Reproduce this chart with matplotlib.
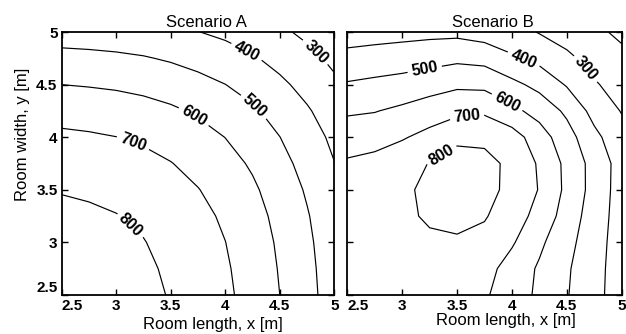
import numpy as np
import matplotlib
matplotlib.use("Agg")
import matplotlib.pyplot as plt

# grid positions (room length x, room width y) in metres
x_vals = [2.5, 2.75, 3.0, 3.25, 3.5, 3.75, 4.0, 4.25, 4.5, 4.75, 5.0]
y_vals = [2.5, 2.75, 3.0, 3.25, 3.5, 3.75, 4.0, 4.25, 4.5, 4.75, 5.0]

# values, one row per y (bottom to top)
scenario_a = [
    [860, 852, 840, 822, 795, 760, 718, 665, 600, 530, 455],
    [852, 844, 832, 814, 788, 753, 711, 659, 594, 525, 451],
    [840, 832, 820, 803, 776, 742, 701, 650, 586, 518, 444],
    [822, 814, 803, 786, 760, 726, 686, 636, 573, 507, 435],
    [795, 788, 776, 760, 735, 703, 664, 615, 555, 490, 421],
    [760, 753, 742, 726, 703, 672, 634, 588, 530, 468, 402],
    [718, 711, 701, 686, 664, 635, 599, 555, 501, 443, 380],
    [665, 659, 650, 636, 615, 588, 555, 514, 464, 410, 352],
    [600, 594, 586, 573, 555, 530, 501, 464, 419, 370, 317],
    [530, 525, 518, 507, 490, 468, 443, 410, 370, 327, 280],
    [455, 451, 444, 435, 421, 402, 380, 352, 317, 280, 241],
]

scenario_b = [
    [742, 748, 755, 755, 745, 712, 649, 582, 506, 430, 350],
    [740, 750, 760, 768, 765, 735, 660, 588, 512, 433, 352],
    [738, 752, 770, 785, 790, 770, 711, 619, 531, 441, 353],
    [735, 755, 782, 812, 822, 808, 747, 668, 557, 450, 357],
    [730, 755, 785, 818, 840, 830, 775, 695, 578, 463, 357],
    [712, 730, 765, 803, 830, 820, 785, 687, 576, 463, 360],
    [654, 663, 691, 731, 785, 785, 745, 646, 541, 425, 335],
    [587, 596, 620, 648, 675, 683, 625, 564, 481, 367, 295],
    [509, 522, 536, 561, 583, 577, 526, 471, 392, 311, 256],
    [431, 443, 452, 463, 479, 468, 414, 372, 322, 262, 219],
    [353, 360, 368, 375, 376, 355, 335, 295, 255, 216, 185],
]

label_levels = [300, 400, 500, 600, 700, 800]
extra_levels_b = [200]   # unlabelled line in the top right corner of B

# where the level labels sit
label_pos_a = [(4.80, 4.78), (4.19, 4.80), (4.29, 4.32), (3.73, 4.23), (3.16, 3.96), (3.12, 3.15)]
label_pos_b = [(4.66, 4.64), (4.09, 4.70), (3.21, 4.62), (3.95, 4.32), (3.59, 4.19), (3.37, 3.81)]

ticks = [2.5, 3, 3.5, 4, 4.5, 5]
tick_labels = ["2.5", "3", "3.5", "4", "4.5", "5"]

plt.rcParams["font.family"] = ["Liberation Sans", "DejaVu Sans"]

fig = plt.figure(figsize=(6.26, 3.34), dpi=100)
ax_a = fig.add_axes([0.0985, 0.117, 0.4355, 0.787])
ax_b = fig.add_axes([0.5548, 0.117, 0.4383, 0.787])

panels = [
    (ax_a, scenario_a, label_pos_a, "Scenario A"),
    (ax_b, scenario_b, label_pos_b, "Scenario B"),
]

for ax, z, label_pos, title in panels:
    cs = ax.contour(x_vals, y_vals, np.array(z), levels=label_levels, colors="k", linewidths=0.85)
    with plt.rc_context({"font.weight": "bold"}):
        ax.clabel(cs, manual=label_pos, fmt="%d", fontsize=11.5, inline_spacing=4)

    ax.set_xlim(2.5, 5)
    ax.set_ylim(2.5, 5)
    ax.set_xticks(ticks)
    ax.set_xticklabels(tick_labels)
    ax.set_yticks(ticks)
    ax.set_yticklabels(tick_labels)
    ax.tick_params(direction="in", top=True, right=True, length=4, width=1,
                   labelsize=11, pad=3)
    for lbl in ax.get_xticklabels() + ax.get_yticklabels():
        lbl.set_fontweight("bold")
    ax.get_xticklabels()[0].set_ha("left")
    ax.get_yticklabels()[0].set_va("bottom")
    for sp in ax.spines.values():
        sp.set_linewidth(1.3)

    ax.set_title(title, fontsize=12, pad=4, x=0.53)
    ax.set_xlabel("Room length, x [m]", fontsize=12)

ax_b.contour(x_vals, y_vals, np.array(scenario_b), levels=extra_levels_b, colors="k", linewidths=0.85)

ax_a.xaxis.set_label_coords(0.555, -0.085)
ax_b.xaxis.set_label_coords(0.578, -0.068)
ax_a.set_ylabel("Room width, y [m]", fontsize=12)
ax_a.yaxis.set_label_coords(-0.115, 0.61)
ax_b.tick_params(labelleft=False)

fig.savefig("out.png", dpi=100)
